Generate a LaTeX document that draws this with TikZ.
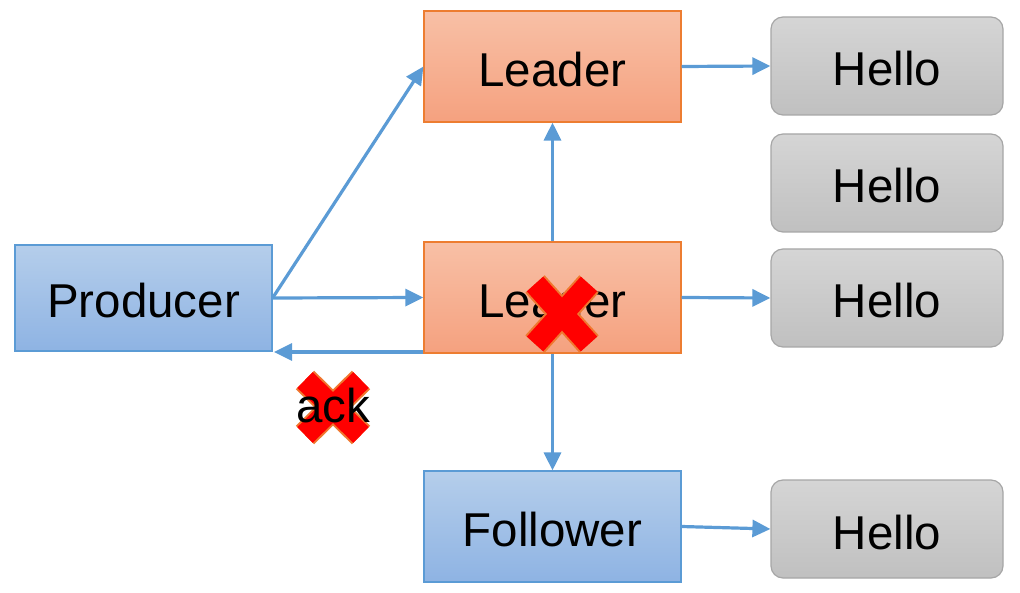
\documentclass[tikz,border=0pt]{standalone}
\usepackage{fontspec}
\setmainfont{Liberation Sans}
\usetikzlibrary{arrows.meta}
\definecolor{arr}{HTML}{5B9BD5}
\definecolor{bluebd}{HTML}{5B9BD5}
\definecolor{bluetop}{HTML}{B5CEEB}
\definecolor{bluebot}{HTML}{8EB3E3}
\definecolor{orgbd}{HTML}{ED7D31}
\definecolor{orgtop}{HTML}{F8C0A6}
\definecolor{orgbot}{HTML}{F5A17F}
\definecolor{graybd}{HTML}{A6A6A6}
\definecolor{graytop}{HTML}{D5D5D5}
\definecolor{graybot}{HTML}{C0C0C0}
\definecolor{xred}{HTML}{FF0000}
\definecolor{xorg}{HTML}{F07830}
\tikzset{
  txt/.style={font=\fontsize{47.5}{52}\selectfont, text=black},
  shifted/.style={text height=40pt, text depth=0pt},
  bluebox/.style={txt, shifted, draw=bluebd, line width=1.2pt, top color=bluetop, bottom color=bluebot, minimum width=257pt, minimum height=106pt, inner sep=0pt},
  orgbox/.style={txt, shifted, draw=orgbd, line width=1.2pt, top color=orgtop, bottom color=orgbot, minimum width=257pt, minimum height=111pt, inner sep=0pt},
  hellobox/.style={txt, shifted, draw=graybd, line width=1.2pt, top color=graytop, bottom color=graybot, rounded corners=12pt, minimum width=232pt, minimum height=98pt, inner sep=0pt},
  conn/.style={draw=arr, line width=3.2pt, -{Triangle[length=18pt,width=17pt]}},
  xo/.style={draw=xorg, line width=26pt, line cap=butt},
  xi/.style={draw=xred, line width=22pt, line cap=butt}
}
\begin{document}
\begin{tikzpicture}[x=1pt,y=-1pt]
\useasboundingbox (0,0) rectangle (1020,593);
\node[bluebox] (prod) at (143.5,298) {Producer};
\node[orgbox] (lead1) at (552.5,66.5) {Leader};
\node[orgbox] (lead2) at (552.5,297.5) {Leader};
\node[bluebox, minimum height=111pt] (fol) at (552.5,526.5) {Follower};
\node[hellobox] (h1) at (887,66) {Hello};
\node[hellobox] (h2) at (887,183) {Hello};
\node[hellobox] (h3) at (887,298) {Hello};
\node[hellobox] (h4) at (887,529) {Hello};
\coordinate (backend) at (274,352);
\draw[conn] (prod.east) -- (lead1.west);
\draw[conn] (prod.east) -- (lead2.west);
\draw[conn] (lead2.south west |- backend) -- (backend);
\draw[conn] (lead2.north) -- (lead1.south);
\draw[conn] (lead2.south) -- (fol.north);
\draw[conn] (lead1.east) -- (h1.west);
\draw[conn] (lead2.east) -- (h3.west);
\draw[conn] (fol.east) -- (h4.west);
% X over ack
\draw[xo] (305,380) -- (361,435) (361,380) -- (305,435);
\draw[xi] (305,380) -- (361,435) (361,380) -- (305,435);
\node[txt, inner sep=0pt] (ack) at (333,406) {ack};
% X over leader
\draw[xo] (535,284) -- (589,344) (589,284) -- (535,344);
\draw[xi] (535,284) -- (589,344) (589,284) -- (535,344);
\end{tikzpicture}
\end{document}
